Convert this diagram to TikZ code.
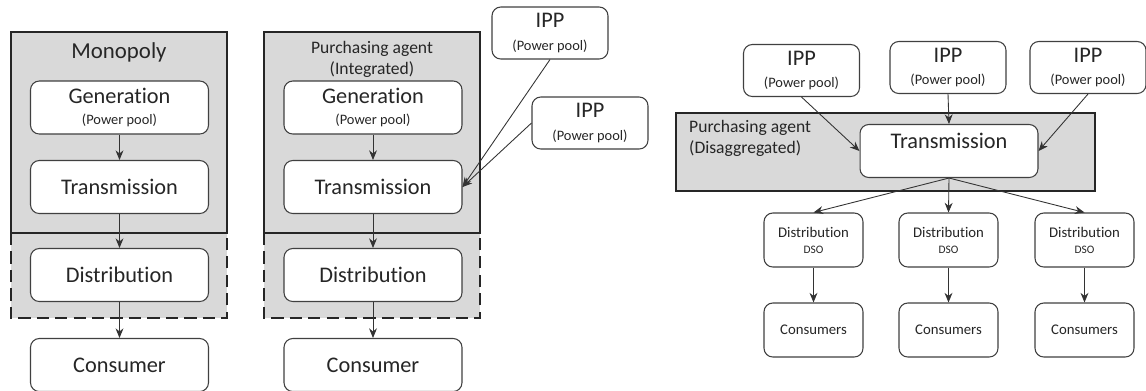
\documentclass[tikz,border=0pt]{standalone}
\usepackage{fontspec}
\setmainfont{Carlito}[RawFeature={-liga;-clig;-calt}]
\usetikzlibrary{arrows.meta}
\newcommand{\subtxt}[1]{{\fontsize{8.2}{9}\selectfont #1}}

\begin{document}
\begin{tikzpicture}[x=0.02cm,y=-0.02cm,
  box/.style={draw=black!75,line width=0.6pt,rounded corners=5pt,fill=white,text=black!85,align=center,
    minimum width=3.56cm,minimum height=1.06cm,inner sep=0pt,font=\fontsize{12.7}{14}\selectfont},
  ipp/.style={box,minimum width=2.32cm,minimum height=1.04cm},
  small/.style={box,minimum width=1.98cm,minimum height=1.08cm,font=\fontsize{8.4}{10}\selectfont},
  area/.style={fill=black!15,draw=black!85,line width=1.5pt},
  lbl/.style={text=black!85,font=\fontsize{10}{12}\selectfont},
  arr/.style={-{Stealth[length=5.5pt,width=4.5pt]},draw=black!80,line width=0.5pt}]
\useasboundingbox (0,0) rectangle (1146,390);
% monopoly
\draw[area,dash pattern=on 7pt off 3.5pt] (11,233) rectangle (227,318);
\draw[area] (11,32) rectangle (227,233);
\node[lbl,font=\fontsize{13}{15}\selectfont] (mono) at (119,52) {Monopoly};
\node[box] (gen1) at (119.5,107.5) {Generation\\[-2pt]\subtxt{(Power pool)}};
\node[box] (tra1) at (119.5,187) {Transmission};
\node[box] (dis1) at (119.5,275) {Distribution};
\node[box] (con1) at (119.5,365) {Consumer};
\draw[arr] (gen1) -- (tra1);
\draw[arr] (tra1) -- (dis1);
\draw[arr] (dis1) -- (con1);
% purchasing agent, integrated
\draw[area,dash pattern=on 7pt off 3.5pt] (264,233) rectangle (480,318);
\draw[area] (264,32) rectangle (480,233);
\node[lbl,align=center] (pa2) at (372,59) {Purchasing agent\\(Integrated)};
\node[box] (gen2) at (373,107.5) {Generation\\[-2pt]\subtxt{(Power pool)}};
\node[box] (tra2) at (373,187) {Transmission};
\node[box] (dis2) at (373,275) {Distribution};
\node[box] (con2) at (373,365) {Consumer};
\node[ipp] (ipp2a) at (550,33) {IPP\\[-1pt]\subtxt{(Power pool)}};
\node[ipp] (ipp2b) at (590,123) {IPP\\[-1pt]\subtxt{(Power pool)}};
\draw[arr] (gen2) -- (tra2);
\draw[arr] (tra2) -- (dis2);
\draw[arr] (dis2) -- (con2);
\draw[arr] (ipp2a.south) -- (tra2.east);
\draw[arr] (ipp2b.west) -- (tra2.east);
% purchasing agent, disaggregated
\draw[area] (676,113) rectangle (1095,191);
\node[lbl,align=left,anchor=west] (pa3) at (683,138) {Purchasing agent\\(Disaggregated)};
\node[box,text height=9pt,text depth=12pt] (tra3) at (949,151) {Transmission};
\node[ipp] (ippl) at (801.5,70.5) {IPP\\[-1pt]\subtxt{(Power pool)}};
\node[ipp] (ippm) at (948,67.5) {IPP\\[-1pt]\subtxt{(Power pool)}};
\node[ipp] (ippr) at (1088,67.5) {IPP\\[-1pt]\subtxt{(Power pool)}};
\draw[arr] (ippl.south) -- (tra3.west);
\draw[arr] (ippm.south) -- (tra3.north);
\draw[arr] (ippr.south) -- (tra3.east);
\node[small] (disl) at (813.5,240) {Distribution\\[-1pt]{\fontsize{6.5}{7}\selectfont DSO}};
\node[small] (dism) at (948.5,240) {Distribution\\[-1pt]{\fontsize{6.5}{7}\selectfont DSO}};
\node[small] (disr) at (1084.5,240) {Distribution\\[-1pt]{\fontsize{6.5}{7}\selectfont DSO}};
\node[small] (conl) at (813.5,330) {Consumers};
\node[small] (conm) at (948.5,330) {Consumers};
\node[small] (conr) at (1084.5,330) {Consumers};
\draw[arr] (tra3.south) -- (disl.north);
\draw[arr] (tra3.south) -- (dism.north);
\draw[arr] (tra3.south) -- (disr.north);
\draw[arr] (disl) -- (conl);
\draw[arr] (dism) -- (conm);
\draw[arr] (disr) -- (conr);
\end{tikzpicture}
\end{document}
